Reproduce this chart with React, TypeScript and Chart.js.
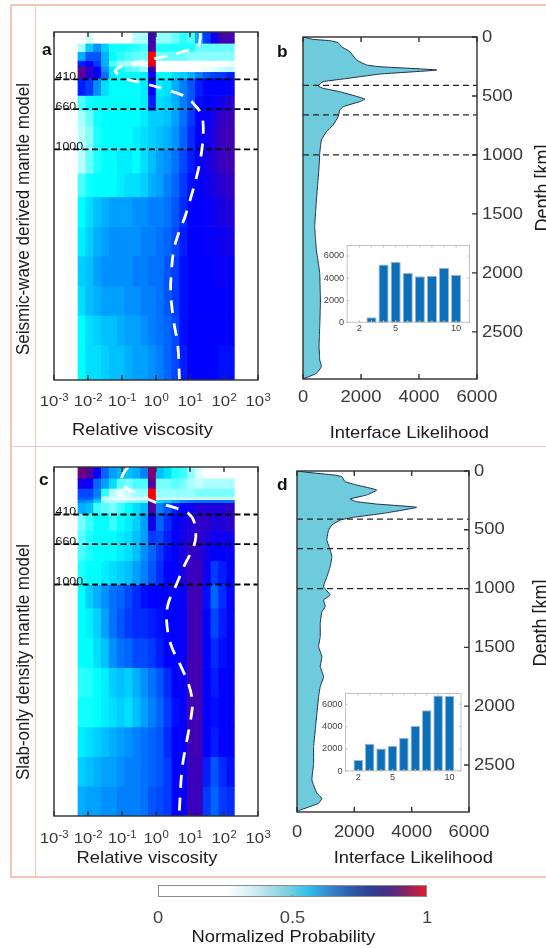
import React, { useEffect, useRef } from 'react';
import { Chart, registerables } from 'chart.js';

Chart.register(...registerables);

const FONT = '"Liberation Sans", Arial, Helvetica, sans-serif';
const SX = 1.08;
const INK = '#1b1b1b';
const TICK_INK = '#383838';
const AXIS = '#2f2f2f';

// ---------------- data ----------------
const VISC_COLUMN_LOG10 = [-2.18, -1.95, -1.72, -1.49, -1.26, -1.03, -0.80, -0.57, -0.34, -0.11, 0.12, 0.35, 0.58, 0.81, 1.04, 1.27, 1.50, 1.73, 1.96, 2.19];
const VISC_TICK_EXP = [-3, -2, -1, 0, 1, 2, 3];
const BOUNDARIES = [410, 660, 1000];

const DEPTH_EDGES_A = [0, 105, 175, 250, 300, 345, 400, 545, 670, 800, 1000, 1200, 1400, 1650, 1900, 2150, 2400, 2650, 2960];
const PROB_A = [
  [30, 35, 28, 25, 25, 25, 28, 40, 42, 82, 45, 45, 48, 52, 50, 60, 68, 74, 82, 83],
  [42, 58, 62, 58, 54, 54, 53, 52, 50, 85, 53, 53, 53, 53, 53, 48, 48, 48, 48, 48],
  [60, 66, 66, 60, 55, 52, 50, 48, 48, 100, 48, 48, 48, 48, 46, 46, 46, 46, 46, 46],
  [70, 72, 68, 60, 50, 45, 42, 35, 32, 98, 25, 25, 25, 25, 25, 25, 25, 28, 30, 32],
  [88, 80, 72, 62, 56, 54, 50, 48, 45, 80, 28, 28, 28, 29, 30, 30, 32, 35, 38, 40],
  [86, 78, 72, 64, 56, 55, 55, 55, 56, 74, 55, 55, 57, 58, 60, 63, 66, 68, 68, 70],
  [70, 68, 62, 57, 55, 55, 55, 55, 56, 72, 56, 57, 60, 63, 66, 70, 72, 72, 72, 73],
  [50, 54, 55, 55, 55, 55, 55, 55, 56, 70, 57, 58, 60, 63, 66, 71, 72, 73, 75, 78],
  [42, 48, 54, 55, 55, 55, 55, 55, 56, 58, 58, 59, 61, 64, 68, 72, 73, 76, 80, 81],
  [40, 46, 53, 55, 55, 55, 55, 56, 57, 58, 59, 60, 62, 65, 69, 72, 74, 77, 81, 82],
  [40, 48, 53, 55, 55, 56, 56, 55, 57, 59, 61, 62, 64, 67, 70, 72, 75, 78, 81, 82],
  [50, 54, 55, 55, 55, 56, 57, 57, 58, 60, 61, 63, 65, 68, 71, 72, 74, 76, 78, 80],
  [55, 57, 59, 60, 61, 61, 61, 62, 62, 63, 63, 64, 66, 69, 72, 72, 73, 74, 76, 77],
  [56, 58, 60, 61, 62, 62, 62, 62, 63, 63, 64, 65, 67, 70, 72, 72, 73, 73, 74, 75],
  [58, 59, 61, 62, 62, 62, 62, 63, 63, 64, 64, 66, 68, 71, 72, 72, 72, 73, 73, 73],
  [57, 59, 60, 61, 61, 61, 62, 62, 63, 63, 64, 66, 68, 71, 72, 72, 72, 72, 72, 72],
  [55, 57, 58, 59, 59, 60, 61, 61, 62, 63, 64, 65, 67, 71, 72, 72, 72, 72, 72, 72],
  [55, 57, 57, 58, 59, 59, 60, 61, 61, 62, 63, 65, 67, 70, 72, 72, 72, 72, 71, 71],
];

const DEPTH_EDGES_C = [0, 105, 190, 255, 275, 285, 310, 400, 545, 660, 800, 1000, 1200, 1450, 1700, 1950, 2200, 2450, 2700, 2960];
const PROB_C = [
  [90, 85, 73, 65, 61, 60, 59, 60, 63, 91, 59, 57, 53, 51, 45, 35, 25, 25, 25, 25],
  [75, 73, 65, 61, 57, 49, 47, 50, 50, 86, 47, 47, 49, 47, 42, 38, 42, 42, 42, 42],
  [67, 67, 63, 52, 40, 33, 38, 45, 45, 100, 45, 45, 45, 45, 45, 47, 47, 47, 47, 47],
  [66, 66, 62, 42, 36, 34, 36, 40, 40, 100, 42, 42, 42, 42, 42, 42, 42, 42, 42, 42],
  [65, 65, 60, 32, 30, 30, 30, 30, 30, 98, 30, 30, 30, 30, 30, 30, 30, 30, 30, 30],
  [63, 62, 58, 45, 42, 42, 44, 46, 48, 90, 57, 58, 60, 62, 63, 64, 64, 64, 64, 64],
  [60, 59, 51, 49, 47, 51, 55, 57, 59, 85, 63, 66, 70, 72, 74, 77, 77, 77, 77, 79],
  [47, 51, 55, 55, 51, 55, 56, 58, 61, 75, 65, 69, 72, 74, 77, 79, 79, 77, 77, 79],
  [49, 53, 55, 55, 55, 56, 57, 59, 61, 68, 67, 70, 72, 75, 78, 79, 77, 74, 74, 74],
  [50, 53, 55, 55, 55, 56, 57, 59, 62, 65, 68, 71, 72, 76, 80, 79, 75, 72, 72, 73],
  [53, 55, 55, 56, 57, 58, 59, 61, 63, 66, 69, 72, 72, 76, 81, 81, 74, 68, 70, 72],
  [55, 58, 60, 62, 64, 65, 67, 69, 71, 72, 72, 72, 72, 73, 82, 82, 71, 65, 69, 72],
  [55, 56, 58, 61, 64, 66, 68, 69, 69, 70, 71, 72, 72, 73, 82, 82, 72, 67, 70, 72],
  [55, 55, 57, 59, 62, 64, 65, 67, 67, 68, 70, 72, 72, 73, 82, 82, 72, 69, 71, 72],
  [52, 53, 55, 56, 58, 59, 58, 60, 62, 64, 66, 69, 72, 73, 82, 82, 72, 70, 72, 72],
  [54, 54, 55, 56, 57, 58, 57, 59, 61, 63, 65, 68, 71, 73, 82, 82, 72, 71, 72, 72],
  [56, 57, 58, 59, 60, 61, 62, 63, 64, 65, 66, 69, 72, 73, 82, 82, 72, 70, 72, 72],
  [58, 59, 60, 61, 61, 62, 63, 63, 64, 65, 66, 68, 72, 73, 81, 81, 70, 66, 69, 71],
  [60, 61, 61, 62, 62, 63, 63, 63, 64, 66, 67, 68, 72, 73, 81, 81, 68, 65, 68, 69],
];

const PROFILE_A_DEPTH = [20, 120, 175, 235, 300, 335, 360, 400, 440, 500, 560, 620, 700, 820, 1000, 1200, 1400, 1570, 1710, 1850, 2050, 2200, 2450, 2650, 2940];
const PROFILE_A_LOG10 = [1.31, 1.25, 0.80, -0.05, -1.00, -1.20, -1.15, -0.95, -0.40, 0.35, 0.90, 1.12, 1.33, 1.39, 1.35, 1.22, 1.03, 0.85, 0.66, 0.52, 0.45, 0.43, 0.52, 0.64, 0.69];
const PROFILE_C_DEPTH = [10, 60, 150, 235, 306, 348, 400, 470, 600, 700, 830, 1000, 1160, 1300, 1500, 1700, 1850, 2000, 2170, 2370, 2570, 2940];
const PROFILE_C_LOG10 = [-0.82, -0.95, -1.03, -0.53, -0.03, 0.50, 0.95, 1.12, 1.17, 1.08, 0.85, 0.60, 0.36, 0.31, 0.43, 0.75, 0.97, 1.07, 1.00, 0.87, 0.76, 0.68];

const LIKE_TICKS = [0, 2000, 4000, 6000];
const DEPTH_TICKS = [0, 500, 1000, 1500, 2000, 2500];
const LIKE_B_DEPTH = [0, 20, 31, 48, 82, 124, 195, 237, 252, 280, 314, 356, 379, 415, 435, 464, 526, 548, 591, 619, 676, 746, 803, 873, 986, 1100, 1240, 1382, 1500, 1608, 1710, 1806, 1900, 2004, 2120, 2230, 2350, 2456, 2540, 2626, 2700, 2739, 2795, 2852, 2900];
const LIKE_B_VALUE = [0, 346, 923, 1211, 1327, 1615, 1846, 2192, 2654, 4615, 2654, 1385, 692, 519, 692, 1269, 2135, 1962, 1385, 1269, 1211, 1038, 808, 635, 577, 554, 510, 462, 430, 404, 430, 462, 520, 577, 590, 600, 590, 577, 565, 554, 570, 577, 635, 462, 0];
const LIKE_D_DEPTH = [0, 11, 34, 48, 91, 119, 162, 204, 238, 261, 281, 309, 360, 394, 417, 459, 502, 587, 672, 728, 813, 899, 984, 1054, 1097, 1154, 1196, 1295, 1409, 1494, 1579, 1664, 1749, 1834, 1919, 2061, 2202, 2344, 2486, 2628, 2741, 2783, 2826, 2883, 2900];
const LIKE_D_VALUE = [0, 347, 1274, 1564, 1680, 2085, 2780, 2432, 1853, 2085, 2780, 4170, 3012, 1969, 1506, 1216, 1100, 1042, 1158, 1216, 1158, 1042, 927, 1158, 927, 985, 869, 811, 811, 753, 869, 811, 927, 811, 753, 695, 637, 579, 579, 521, 695, 869, 753, 116, 0];

const INSET_K = [2, 3, 4, 5, 6, 7, 8, 9, 10];
const INSET_B = [30, 485, 5240, 5480, 4480, 4180, 4240, 4940, 4330];
const INSET_D = [1015, 2460, 2030, 2280, 2990, 4060, 5450, 6770, 6740];
const INSET_Y_TICKS = [0, 2000, 4000, 6000];
const INSET_X_TICKS = [2, 5, 10];

const CBAR_TICKS = [0, 0.5, 1];
const CBAR_STOPS = [0, 0.25, 0.35, 0.45, 0.5, 0.56, 0.63, 0.71, 0.79, 0.86, 0.93, 1];
const CBAR_COLORS = ['#ffffff', '#ffffff', '#d4eef3', '#92d5e2', '#6ccee0', '#2ebfee', '#3a8bd1', '#2e5eae', '#2e3f90', '#4d2c85', '#8d2361', '#ea1d25'];

const CMAP_POS = [0, 0.30, 0.45, 0.55, 0.63, 0.72, 0.82, 0.90, 1.0];
const CMAP_RGB = [[255, 255, 255], [255, 255, 255], [150, 255, 255], [0, 255, 255], [0, 128, 255], [0, 0, 255], [64, 0, 180], [110, 0, 130], [255, 0, 0]];

// ---------------- helpers ----------------
function cmap(v: number): string {
  const t = Math.max(0, Math.min(1, v / 100));
  for (let i = 1; i < CMAP_POS.length; i++) {
    if (t <= CMAP_POS[i]) {
      const a = CMAP_POS[i - 1], b = CMAP_POS[i];
      const f = b > a ? (t - a) / (b - a) : 0;
      const c0 = CMAP_RGB[i - 1], c1 = CMAP_RGB[i];
      const r = Math.round(c0[0] + (c1[0] - c0[0]) * f);
      const g = Math.round(c0[1] + (c1[1] - c0[1]) * f);
      const bl = Math.round(c0[2] + (c1[2] - c0[2]) * f);
      return `rgb(${r},${g},${bl})`;
    }
  }
  return 'rgb(255,0,0)';
}

function drawText(ctx: any, s: string, x: number, y: number, size: number, o: any = {}) {
  ctx.save();
  ctx.font = `${o.weight || 'normal'} ${size}px ${FONT}`;
  ctx.fillStyle = o.color || INK;
  ctx.textAlign = o.align || 'left';
  ctx.textBaseline = o.baseline || 'alphabetic';
  ctx.translate(x, y);
  ctx.scale(SX, 1);
  if (o.rot) ctx.rotate(o.rot);
  ctx.fillText(s, 0, 0);
  ctx.restore();
}

function supLabel(ctx: any, cx: number, base: number, exp: string) {
  ctx.save();
  ctx.font = `15.5px ${FONT}`;
  const w1 = ctx.measureText('10').width * SX;
  ctx.font = `10.5px ${FONT}`;
  const w2 = ctx.measureText(exp).width * SX;
  ctx.restore();
  const x0 = cx - (w1 + w2) / 2;
  drawText(ctx, '10', x0, base, 15.5, { color: TICK_INK });
  drawText(ctx, exp, x0 + w1 + 0.3, base - 5.5, 10.5, { color: TICK_INK });
}

const baseOptions = {
  responsive: false,
  animation: false,
  events: [],
  plugins: { legend: { display: false }, tooltip: { enabled: false } },
};

function viscosityConfig(edges: number[], grid: number[][], pDepth: number[], pLog: number[], yMin: number, yMax: number, padding: any, deco: any) {
  const heat = grid.map((row, r) => ({
    type: 'bar',
    data: row.map((v, i) => ({ x: VISC_COLUMN_LOG10[i], y: [edges[r], edges[r + 1]], v })),
    backgroundColor: (c: any) => cmap(c.raw ? c.raw.v : 0),
    borderWidth: 0,
    grouped: false,
    barPercentage: 1,
    categoryPercentage: 1,
    order: 3,
  }));
  const bounds = BOUNDARIES.map((b) => ({
    type: 'line',
    data: [{ x: -3, y: b }, { x: 3, y: b }],
    borderColor: '#000',
    borderWidth: 1.8,
    borderDash: [6, 3.5],
    pointRadius: 0,
    fill: false,
    order: 2,
  }));
  const prof = {
    type: 'line',
    data: pDepth.map((d, i) => ({ x: pLog[i], y: d })),
    borderColor: '#ffffff',
    borderWidth: 2.8,
    borderDash: [13, 10],
    borderCapStyle: 'butt',
    pointRadius: 0,
    tension: 0.35,
    fill: false,
    order: 1,
  };
  const plugin = {
    id: 'viscDecor',
    afterDraw(chart: any) {
      const { ctx, chartArea: a } = chart;
      const xs = chart.scales.x, ys = chart.scales.y;
      for (const d of BOUNDARIES) drawText(ctx, String(d), a.left + 1.5, ys.getPixelForValue(d) + 0.5, 11.5, { color: '#111' });
      ctx.save();
      ctx.strokeStyle = AXIS;
      ctx.lineWidth = 1.4;
      ctx.strokeRect(a.left, a.top, a.right - a.left, a.bottom - a.top);
      ctx.beginPath();
      for (const e of VISC_TICK_EXP) {
        const px = xs.getPixelForValue(e);
        ctx.moveTo(px, a.bottom); ctx.lineTo(px, a.bottom - 5);
        ctx.moveTo(px, a.top); ctx.lineTo(px, a.top + 5);
      }
      ctx.stroke();
      ctx.restore();
      for (const e of VISC_TICK_EXP) supLabel(ctx, xs.getPixelForValue(e), deco.tickBase, String(e));
      drawText(ctx, 'Relative viscosity', deco.titleX, deco.titleBase, 17, { align: 'center' });
      drawText(ctx, deco.side, deco.sideX, deco.sideY, 17, { align: 'center', rot: -Math.PI / 2 });
      drawText(ctx, deco.letter, deco.letterX, deco.letterBase, 16, { weight: 'bold', color: '#111' });
    },
  };
  return {
    type: 'bar',
    data: { datasets: [...heat, ...bounds, prof] },
    options: {
      ...baseOptions,
      layout: { padding },
      scales: {
        x: { type: 'linear', min: -3, max: 3, offset: false, display: false, ticks: { stepSize: 1, includeBounds: false } },
        y: { type: 'linear', min: yMin, max: yMax, reverse: true, display: false },
      },
    },
    plugins: [plugin],
  };
}

function likelihoodConfig(depth: number[], value: number[], padding: any, deco: any) {
  const plugin = {
    id: 'likeDecor',
    afterDraw(chart: any) {
      const { ctx, chartArea: a } = chart;
      const xs = chart.scales.x, ys = chart.scales.y;
      ctx.save();
      ctx.strokeStyle = AXIS;
      ctx.lineWidth = 1.4;
      ctx.strokeRect(a.left, a.top, a.right - a.left, a.bottom - a.top);
      ctx.beginPath();
      for (const v of LIKE_TICKS) {
        const px = xs.getPixelForValue(v);
        ctx.moveTo(px, a.bottom); ctx.lineTo(px, a.bottom - 5);
        ctx.moveTo(px, a.top); ctx.lineTo(px, a.top + 5);
      }
      for (const d of DEPTH_TICKS) {
        const py = ys.getPixelForValue(d);
        ctx.moveTo(a.right, py); ctx.lineTo(a.right - 5, py);
      }
      ctx.stroke();
      ctx.restore();
      for (const v of LIKE_TICKS) drawText(ctx, String(v), xs.getPixelForValue(v), deco.xTickBase, 17, { align: 'center', color: TICK_INK });
      for (const d of DEPTH_TICKS) drawText(ctx, String(d), a.right + 5, ys.getPixelForValue(d), 17, { baseline: 'middle', color: TICK_INK });
      drawText(ctx, 'Depth [km]', deco.depthX, deco.depthY, 18, { align: 'center', rot: -Math.PI / 2 });
      drawText(ctx, 'Interface Likelihood', deco.titleX, deco.titleBase, 17, { align: 'center' });
      drawText(ctx, deco.letter, deco.letterX, deco.letterBase, 16, { weight: 'bold', color: '#111' });
    },
  };
  return {
    type: 'line',
    data: {
      datasets: [
        {
          data: depth.map((d, i) => ({ x: value[i], y: d })),
          borderColor: '#1f2d4d',
          borderWidth: 1,
          backgroundColor: '#6dcbdb',
          fill: 'origin',
          pointRadius: 0,
          tension: 0.12,
          order: 2,
        },
        ...BOUNDARIES.map((b) => ({
          data: [{ x: 0, y: b }, { x: 6000, y: b }],
          borderColor: '#262626',
          borderWidth: 1.3,
          borderDash: [6, 4],
          pointRadius: 0,
          fill: false,
          order: 1,
        })),
      ],
    },
    options: {
      ...baseOptions,
      indexAxis: 'y',
      layout: { padding },
      scales: {
        x: { type: 'linear', min: 0, max: 6000, display: false },
        y: { type: 'linear', min: 0, max: 2900, reverse: true, display: false },
      },
    },
    plugins: [plugin],
  };
}

function insetConfig(values: number[], xMin: number, xMax: number, padding: any, xBase: number) {
  const plugin = {
    id: 'insetDecor',
    beforeDatasetsDraw(chart: any) {
      const { ctx, chartArea: a } = chart;
      ctx.save();
      ctx.fillStyle = '#ffffff';
      ctx.fillRect(a.left, a.top, a.right - a.left, a.bottom - a.top);
      ctx.restore();
    },
    afterDraw(chart: any) {
      const { ctx, chartArea: a } = chart;
      const xs = chart.scales.x, ys = chart.scales.y;
      ctx.save();
      ctx.strokeStyle = '#c2c2c2';
      ctx.lineWidth = 1;
      ctx.strokeRect(a.left + 0.5, a.top + 0.5, a.right - a.left - 1, a.bottom - a.top - 1);
      ctx.beginPath();
      for (const k of INSET_K) {
        const px = xs.getPixelForValue(k);
        ctx.moveTo(px, a.top); ctx.lineTo(px, a.top + 2.5);
        ctx.moveTo(px, a.bottom); ctx.lineTo(px, a.bottom - 2.5);
      }
      for (const t of INSET_Y_TICKS) {
        const py = ys.getPixelForValue(t);
        ctx.moveTo(a.right, py); ctx.lineTo(a.right - 2.5, py);
        ctx.moveTo(a.left, py); ctx.lineTo(a.left + 2.5, py);
      }
      ctx.stroke();
      ctx.restore();
      for (const t of INSET_Y_TICKS) drawText(ctx, String(t), a.left - 2.5, ys.getPixelForValue(t), 8.5, { align: 'right', baseline: 'middle', color: '#444' });
      for (const k of INSET_X_TICKS) drawText(ctx, String(k), xs.getPixelForValue(k), xBase, 8.5, { align: 'center', color: '#444' });
    },
  };
  return {
    type: 'bar',
    data: {
      datasets: [{
        data: INSET_K.map((k, i) => ({ x: k, y: values[i] })),
        backgroundColor: '#0c6fba',
        borderColor: '#a3b6cc',
        borderWidth: 1,
        barPercentage: 0.84,
        categoryPercentage: 1,
      }],
    },
    options: {
      ...baseOptions,
      layout: { padding },
      scales: {
        x: { type: 'linear', min: xMin, max: xMax, offset: false, display: false, ticks: { stepSize: 1, includeBounds: false } },
        y: { type: 'linear', min: 0, max: 7000, display: false },
      },
    },
    plugins: [plugin],
  };
}

function colorbarConfig() {
  const plugin = {
    id: 'cbarDecor',
    afterDraw(chart: any) {
      const { ctx, chartArea: a } = chart;
      const xs = chart.scales.x;
      ctx.save();
      ctx.strokeStyle = '#8c8c8c';
      ctx.lineWidth = 1;
      ctx.strokeRect(a.left + 0.5, a.top + 0.5, a.right - a.left - 1, a.bottom - a.top - 1);
      ctx.beginPath();
      const mid = xs.getPixelForValue(0.5);
      ctx.moveTo(mid, a.bottom); ctx.lineTo(mid, a.bottom - 2);
      ctx.stroke();
      ctx.restore();
      for (const t of CBAR_TICKS) drawText(ctx, String(t), xs.getPixelForValue(t), 44.7, 17, { align: 'center', color: '#444' });
      drawText(ctx, 'Normalized Probability', 143.3, 64, 17, { align: 'center' });
    },
  };
  return {
    type: 'bar',
    data: {
      labels: ['p'],
      datasets: [{
        data: [[0, 1]],
        backgroundColor: (c: any) => {
          const ch = c.chart;
          const a = ch.chartArea;
          if (!a) return '#ffffff';
          const g = ch.ctx.createLinearGradient(a.left, 0, a.right, 0);
          CBAR_STOPS.forEach((s, i) => g.addColorStop(s, CBAR_COLORS[i]));
          return g;
        },
        borderWidth: 0,
        barPercentage: 1,
        categoryPercentage: 1,
      }],
    },
    options: {
      ...baseOptions,
      indexAxis: 'y',
      layout: { padding: { left: 18, top: 7, right: 13, bottom: 51 } },
      scales: {
        x: { type: 'linear', min: 0, max: 1, display: false },
        y: { display: false },
      },
    },
    plugins: [plugin],
  };
}

const CANVASES = [
  { left: 0, top: 0, w: 272, h: 446 },
  { left: 0, top: 446, w: 272, h: 432 },
  { left: 272, top: 0, w: 274, h: 446 },
  { left: 272, top: 446, w: 274, h: 432 },
  { left: 318, top: 236, w: 158, h: 100 },
  { left: 316, top: 684, w: 150, h: 104 },
  { left: 140, top: 878, w: 300, h: 70 },
];

const FRAME = '#f5c6b6';

export default function App() {
  const refs = [useRef<HTMLCanvasElement>(null), useRef<HTMLCanvasElement>(null), useRef<HTMLCanvasElement>(null), useRef<HTMLCanvasElement>(null), useRef<HTMLCanvasElement>(null), useRef<HTMLCanvasElement>(null), useRef<HTMLCanvasElement>(null)];

  useEffect(() => {
    const cfgs: any[] = [
      viscosityConfig(DEPTH_EDGES_A, PROB_A, PROFILE_A_DEPTH, PROFILE_A_LOG10, 10, 2945,
        { left: 54, top: 32, right: 14, bottom: 66 },
        { tickBase: 406, titleX: 142.5, titleBase: 435, side: 'Seismic-wave derived mantle model', sideX: 29, sideY: 219, letter: 'a', letterX: 42, letterBase: 55 }),
      viscosityConfig(DEPTH_EDGES_C, PROB_C, PROFILE_C_DEPTH, PROFILE_C_LOG10, 10, 2950,
        { left: 54, top: 21, right: 14, bottom: 62 },
        { tickBase: 397, titleX: 147, titleBase: 416.5, side: 'Slab-only density mantle model', sideX: 29, sideY: 216, letter: 'c', letterX: 39, letterBase: 39 }),
      likelihoodConfig(LIKE_B_DEPTH, LIKE_B_VALUE, { left: 31, top: 37, right: 69, bottom: 67 },
        { xTickBase: 401.5, depthX: 277, depthY: 188, titleX: 137.3, titleBase: 438, letter: 'b', letterX: 5, letterBase: 57 }),
      likelihoodConfig(LIKE_D_DEPTH, LIKE_D_VALUE, { left: 25, top: 25, right: 77, bottom: 66 },
        { xTickBase: 391, depthX: 275, depthY: 177, titleX: 141.3, titleBase: 416.7, letter: 'd', letterX: 5, letterBase: 44 }),
      insetConfig(INSET_B, 0.95, 11.15, { left: 28.7, top: 9, right: 6, bottom: 13.3 }, 95),
      insetConfig(INSET_D, 0.84, 11.05, { left: 29, top: 9, right: 4.5, bottom: 16.7 }, 96),
      colorbarConfig(),
    ];
    const charts = refs.map((r, i) => new Chart(r.current as HTMLCanvasElement, cfgs[i]));
    return () => charts.forEach((c) => c.destroy());
  }, []);

  return (
    <div style={{ position: 'fixed', left: 0, top: 0, width: 546, height: 948, background: '#ffffff', overflow: 'hidden' }}>
      <div style={{ position: 'absolute', left: 10, top: 4, width: 1.5, height: 873, background: FRAME }} />
      <div style={{ position: 'absolute', left: 34.5, top: 4, width: 1.5, height: 873, background: FRAME }} />
      <div style={{ position: 'absolute', left: 10, top: 4, width: 536, height: 1.5, background: FRAME }} />
      <div style={{ position: 'absolute', left: 10, top: 445.5, width: 536, height: 1.5, background: '#e8ccc5' }} />
      <div style={{ position: 'absolute', left: 10, top: 876, width: 536, height: 1.5, background: FRAME }} />
      {CANVASES.map((c, i) => (
        <canvas key={i} ref={refs[i]} width={c.w} height={c.h}
          style={{ position: 'absolute', left: c.left, top: c.top, width: c.w, height: c.h }} />
      ))}
    </div>
  );
}
